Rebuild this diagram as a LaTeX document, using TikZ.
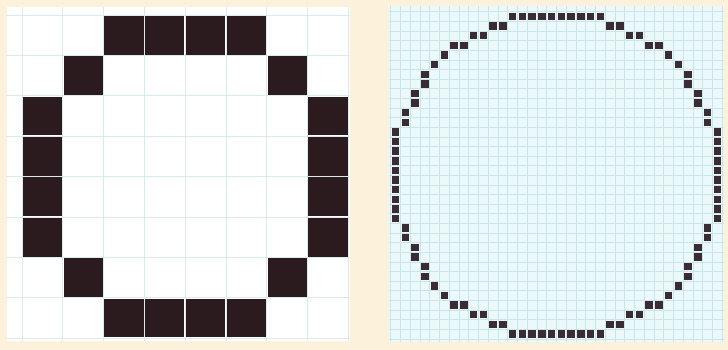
\documentclass[tikz,border=0pt]{standalone}
\usepackage{xcolor}
\usepackage{tikz}
\definecolor{bgcream}{RGB}{252,242,220}
\definecolor{pixdark}{RGB}{44,27,30}
\definecolor{dotdark}{RGB}{58,44,50}
\definecolor{gridcyan}{RGB}{214,236,238}
\definecolor{finefill}{RGB}{236,249,251}
\definecolor{fineline}{RGB}{200,229,236}

\begin{document}
\begin{tikzpicture}[x=1pt, y=-1pt,
    bigpix/.style={fill=pixdark},
    smallpix/.style={fill=dotdark},
    coarsegrid/.style={draw=gridcyan, line width=0.7pt},
    finegrid/.style={draw=fineline, line width=0.45pt}
]
\useasboundingbox (0,0) rectangle (728,350);
\fill[bgcream] (0,0) rectangle (728,350);

% left panel: coarse 8x8 raster
\fill[white] (7,7) rectangle (350,341);
\foreach \i in {0,...,8} {
    \draw[coarsegrid] ({22+40.8*\i},7) -- ({22+40.8*\i},341);
    \draw[coarsegrid] (7,{15+40.4*\i}) -- (350,{15+40.4*\i});
}
\foreach \r/\c in {0/2,0/3,0/4,0/5,1/1,1/6,2/0,3/0,4/0,5/0,2/7,3/7,4/7,5/7,
                   6/1,6/6,7/2,7/3,7/4,7/5} {
    \fill[bigpix] ({22+40.8*\c+0.8},{15+40.4*\r+0.8}) rectangle ++(39.2,38.8);
}

% right panel: fine 34x34 raster
\fill[finefill] (389,6) rectangle (724,342);
\foreach \i in {0,...,34} {
    \draw[finegrid] ({390.7+9.75*\i},6) -- ({390.7+9.75*\i},342);
    \draw[finegrid] (389,{11.7+9.62*\i}) -- (724,{11.7+9.62*\i});
}
\foreach \r/\c in {0/12,0/13,0/14,0/15,0/16,1/10,1/11,2/8,2/9,3/6,3/7,4/5,5/4,
                   6/3,7/3,8/2,9/2,10/1,11/1,12/0,13/0,14/0,15/0,16/0} {
    \fill[smallpix] ({391.8+9.75*\c},{12.8+9.62*\r}) rectangle ++(7.6,7.4);
    \fill[smallpix] ({391.8+9.75*(33-\c)},{12.8+9.62*\r}) rectangle ++(7.6,7.4);
    \fill[smallpix] ({391.8+9.75*\c},{12.8+9.62*(33-\r)}) rectangle ++(7.6,7.4);
    \fill[smallpix] ({391.8+9.75*(33-\c)},{12.8+9.62*(33-\r)}) rectangle ++(7.6,7.4);
}
\end{tikzpicture}
\end{document}
